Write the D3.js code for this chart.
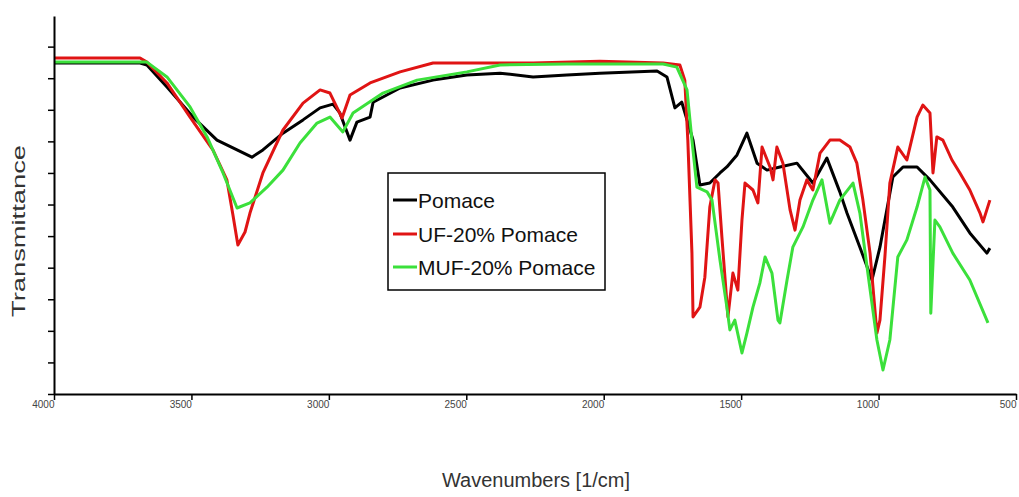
<!DOCTYPE html>
<html>
<head>
<meta charset="utf-8">
<script src="https://cdn.jsdelivr.net/npm/d3@7"></script>
<style>
  html, body { margin: 0; padding: 0; background: #fff; }
  svg { display: block; }
</style>
</head>
<body>
<svg id="chart" width="1019" height="497"></svg>
<script>
// ---- data: [wavenumber (1/cm), transmittance (arb.)] ----
const seriesNames = ["Pomace", "UF-20% Pomace", "MUF-20% Pomace"];
const seriesColors = ["#000000", "#e01414", "#3be03b"];

const pomace = [
  [4000,104.8],[3833,104.8],[3687,104.8],[3662,104.2],[3589,97.2],[3494,87.7],[3407,80.4],
  [3334,77.3],[3280,75.0],[3240,77.3],[3167,82.6],[3094,86.8],[3032,90.6],[2985,91.8],
  [2960,89.0],[2923,80.4],[2898,86.1],[2850,87.7],[2839,92.4],[2741,96.9],[2621,99.4],
  [2498,101.0],[2377,101.6],[2257,100.4],[2134,101.0],[2014,101.6],[1806,102.3],[1770,100.4],
  [1741,90.6],[1716,92.4],[1675,80.4],[1650,66.2],[1614,66.8],[1577,70.0],[1552,71.9],
  [1515,75.7],[1479,82.6],[1442,73.1],[1406,70.9],[1359,71.9],[1297,73.1],[1239,66.8],
  [1188,74.7],[1141,64.0],[1115,57.3],[1068,46.5],[1024,36.1],[995,46.5],[948,68.7],
  [911,71.9],[860,71.9],[813,67.8],[730,59.2],[668,51.0],[606,44.6],[595,46.2]
];

const uf20 = [
  [4000,106.4],[3687,106.4],[3662,105.1],[3589,98.5],[3505,87.7],[3422,77.3],[3371,67.8],
  [3349,56.7],[3331,47.2],[3305,51.3],[3287,57.3],[3240,70.0],[3167,83.6],[3094,92.1],
  [3032,96.3],[2996,95.3],[2952,87.4],[2923,94.7],[2850,98.5],[2741,102.0],[2621,104.8],
  [2439,104.8],[2257,104.8],[2014,105.4],[1784,104.8],[1723,104.2],[1705,99.4],[1694,80.4],
  [1679,44.6],[1675,24.4],[1650,27.5],[1632,37.0],[1614,59.2],[1595,67.8],[1584,66.8],
  [1570,49.7],[1548,24.4],[1530,38.3],[1512,32.9],[1497,55.1],[1486,66.8],[1457,64.6],
  [1439,60.5],[1424,78.2],[1395,71.9],[1384,67.8],[1370,78.2],[1348,73.1],[1322,58.3],
  [1304,51.9],[1286,61.4],[1261,67.8],[1239,64.6],[1213,76.3],[1177,80.4],[1141,80.4],
  [1104,78.2],[1079,73.1],[1057,61.4],[1031,44.6],[1006,19.3],[995,23.4],[977,43.4],
  [959,66.8],[930,78.2],[897,74.1],[860,87.7],[839,91.5],[813,89.0],[802,70.0],[788,81.4],
  [766,80.4],[733,74.1],[704,70.0],[668,64.6],[631,57.3],[620,54.5],[595,61.4]
];

const muf20 = [
  [4000,105.1],[3687,105.1],[3662,105.1],[3589,100.4],[3505,90.9],[3443,81.4],[3385,70.0],
  [3334,58.9],[3287,60.5],[3225,65.5],[3167,70.9],[3105,79.5],[3043,85.8],[2996,87.7],
  [2949,83.0],[2912,89.0],[2803,95.3],[2679,99.4],[2498,102.0],[2377,104.2],[2134,104.5],
  [1784,104.5],[1734,103.5],[1697,96.3],[1679,80.4],[1661,65.5],[1624,64.0],[1606,61.4],
  [1577,42.4],[1552,27.5],[1541,20.3],[1523,23.4],[1497,13.0],[1479,19.3],[1457,27.5],
  [1432,35.1],[1413,43.4],[1388,38.3],[1366,23.4],[1359,22.5],[1333,36.1],[1312,46.5],
  [1275,52.9],[1239,61.4],[1206,67.8],[1177,54.1],[1141,61.4],[1093,66.8],[1068,57.3],
  [1039,38.3],[1006,17.1],[984,7.6],[959,17.1],[930,43.4],[897,48.8],[860,59.2],[831,68.7],
  [813,64.6],[810,25.6],[795,55.1],[777,52.9],[730,44.6],[668,36.1],[602,22.5]
];

const xTicks = [4000, 3500, 3000, 2500, 2000, 1500, 1000, 500];
const xTickLabels = ["4000", "3500", "3000", "2500", "2000", "1500", "1000", "500"];
const yTicks = [0, 10, 20, 30, 40, 50, 60, 70, 80, 90, 100, 110];
const xTitle = "Wavenumbers [1/cm]";
const yTitle = "Transmittance";

// ---- drawing ----
const svg = d3.select("#chart");
const x = d3.scaleLinear().domain([4000, 500]).range([54, 1016]);
const y = d3.scaleLinear().domain([0, 119.7]).range([394, 16]);

// lines
const line = d3.line().x(d => x(d[0])).y(d => y(d[1]));
const allSeries = [pomace, uf20, muf20];
allSeries.forEach((s, i) => {
  svg.append("path")
    .datum(s)
    .attr("fill", "none")
    .attr("stroke", seriesColors[i])
    .attr("stroke-width", 3)
    .attr("stroke-linejoin", "round")
    .attr("d", line);
});

// x axis
const xAxis = d3.axisBottom(x)
  .tickValues(xTicks)
  .tickSize(6)
  .tickSizeOuter(0)
  .tickFormat((d, i) => xTickLabels[i]);
const gx = svg.append("g").attr("transform", "translate(0,394)").call(xAxis);
gx.select(".domain").attr("stroke", "#000").attr("stroke-width", 2);
gx.selectAll(".tick line").attr("stroke", "#000").attr("stroke-width", 1.5);
gx.selectAll(".tick text")
  .attr("text-anchor", "end")
  .attr("x", 0)
  .attr("y", 14)
  .attr("dy", "0")
  .attr("font-family", "Liberation Sans, Arial, sans-serif")
  .attr("font-size", 10)
  .attr("fill", "#444");

// y axis
const yAxis = d3.axisLeft(y)
  .tickValues(yTicks)
  .tickSize(6)
  .tickSizeOuter(0)
  .tickFormat("");
const gy = svg.append("g").attr("transform", "translate(54,0)").call(yAxis);
gy.select(".domain").attr("stroke", "#000").attr("stroke-width", 2);
gy.selectAll(".tick line").attr("stroke", "#000").attr("stroke-width", 1.5);

// titles
svg.append("text")
  .attr("x", 536).attr("y", 487)
  .attr("text-anchor", "middle")
  .attr("font-family", "Liberation Sans, Arial, sans-serif")
  .attr("font-size", 20)
  .attr("fill", "#333")
  .attr("textLength", 188)
  .attr("lengthAdjust", "spacingAndGlyphs")
  .text(xTitle);

svg.append("text")
  .attr("transform", "translate(25,231) rotate(-90)")
  .attr("text-anchor", "middle")
  .attr("font-family", "Liberation Sans, Arial, sans-serif")
  .attr("font-size", 19)
  .attr("fill", "#333")
  .attr("textLength", 172)
  .attr("lengthAdjust", "spacingAndGlyphs")
  .text(yTitle);

// legend
const lg = svg.append("g");
lg.append("rect")
  .attr("x", 388).attr("y", 173).attr("width", 217).attr("height", 117)
  .attr("fill", "#fff").attr("stroke", "#000").attr("stroke-width", 1.5);
const legY = [200, 234, 267];
seriesNames.forEach((name, i) => {
  lg.append("line")
    .attr("x1", 393).attr("x2", 417)
    .attr("y1", legY[i]).attr("y2", legY[i])
    .attr("stroke", seriesColors[i]).attr("stroke-width", 3);
  lg.append("text")
    .attr("x", 418).attr("y", legY[i] + 8)
    .attr("font-family", "Liberation Sans, Arial, sans-serif")
    .attr("font-size", 21)
    .attr("fill", "#111")
    .text(name);
});
</script>
</body>
</html>
